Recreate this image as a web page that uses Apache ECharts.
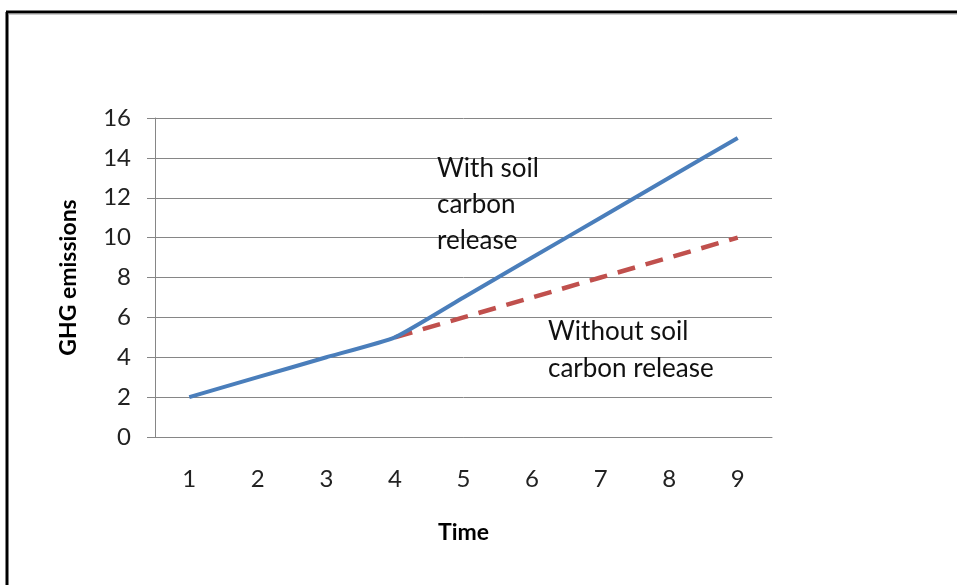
<!DOCTYPE html>
<html>
<head>
<meta charset="utf-8">
<script src="https://cdn.jsdelivr.net/npm/echarts@6/dist/echarts.min.js"></script>
<style>
html,body{margin:0;padding:0;background:#fff;}
#chart{width:957px;height:585px;}
</style>
</head>
<body>
<div id="chart"></div>
<script>
const categories = ['1','2','3','4','5','6','7','8','9'];
const withSoil = [2, 3, 4, 5, 7, 9, 11, 13, 15];
const withoutSoil = [null, null, null, 5, 6, 7, 8, 9, 10];
const yTicks = [0, 2, 4, 6, 8, 10, 12, 14, 16];
const xTitle = 'Time';
const yTitle = 'GHG emissions';
const labelWith = 'With soil\ncarbon\nrelease';
const labelWithout = 'Without soil\ncarbon release';

const FONT = 'Lato';
const chart = echarts.init(document.getElementById('chart'));
chart.setOption({
  animation: false,
  backgroundColor: '#fff',
  grid: { left: 155, right: 185, top: 118, bottom: 148, containLabel: false },
  xAxis: {
    type: 'category',
    data: categories,
    boundaryGap: true,
    name: xTitle,
    nameLocation: 'middle',
    nameGap: 84,
    nameTextStyle: { fontFamily: FONT, fontWeight: 'bold', fontSize: 23, color: '#000' },
    axisLine: { lineStyle: { color: '#868686', width: 1 } },
    axisTick: { show: false },
    axisLabel: { fontFamily: FONT, fontSize: 24, color: '#222', margin: 30 },
    splitLine: { show: false }
  },
  yAxis: {
    type: 'value',
    min: yTicks[0],
    max: yTicks[yTicks.length - 1],
    interval: 2,
    name: yTitle,
    nameLocation: 'middle',
    nameGap: 75,
    nameRotate: 90,
    nameTextStyle: { fontFamily: FONT, fontWeight: 'bold', fontSize: 23, color: '#000' },
    axisLine: { show: true, lineStyle: { color: '#868686', width: 1 } },
    axisTick: { show: true, inside: false, length: 8, lineStyle: { color: '#868686' } },
    axisLabel: { fontFamily: FONT, fontSize: 24, color: '#222', margin: 24 },
    splitLine: { show: true, lineStyle: { color: '#868686', width: 1 } }
  },
  series: [
    {
      type: 'line',
      data: withoutSoil,
      symbol: 'none',
      lineStyle: { color: '#c0504d', width: 4.5, type: [18, 11] },
      z: 2
    },
    {
      type: 'line',
      data: withSoil,
      symbol: 'none',
      smooth: 0.15,
      lineStyle: { color: '#4a7ebb', width: 4 },
      z: 3
    }
  ],
  graphic: [
    { type: 'line', shape: { x1: 7, y1: 12, x2: 7, y2: 585 }, style: { stroke: '#000', lineWidth: 3 }, silent: true },
    { type: 'line', shape: { x1: 6, y1: 12, x2: 957, y2: 12 }, style: { stroke: '#000', lineWidth: 3 }, silent: true },
    { type: 'line', shape: { x1: 8, y1: 14, x2: 957, y2: 14 }, style: { stroke: '#999', lineWidth: 1 }, silent: true },
    { type: 'text', left: 437, top: 151, z: 10, style: { text: labelWith, fontFamily: FONT, fontSize: 26, lineHeight: 36, fill: '#111' } },
    { type: 'text', left: 548, top: 313, z: 10, style: { text: labelWithout, fontFamily: FONT, fontSize: 26, lineHeight: 37, fill: '#111' } }
  ]
});
</script>
</body>
</html>
